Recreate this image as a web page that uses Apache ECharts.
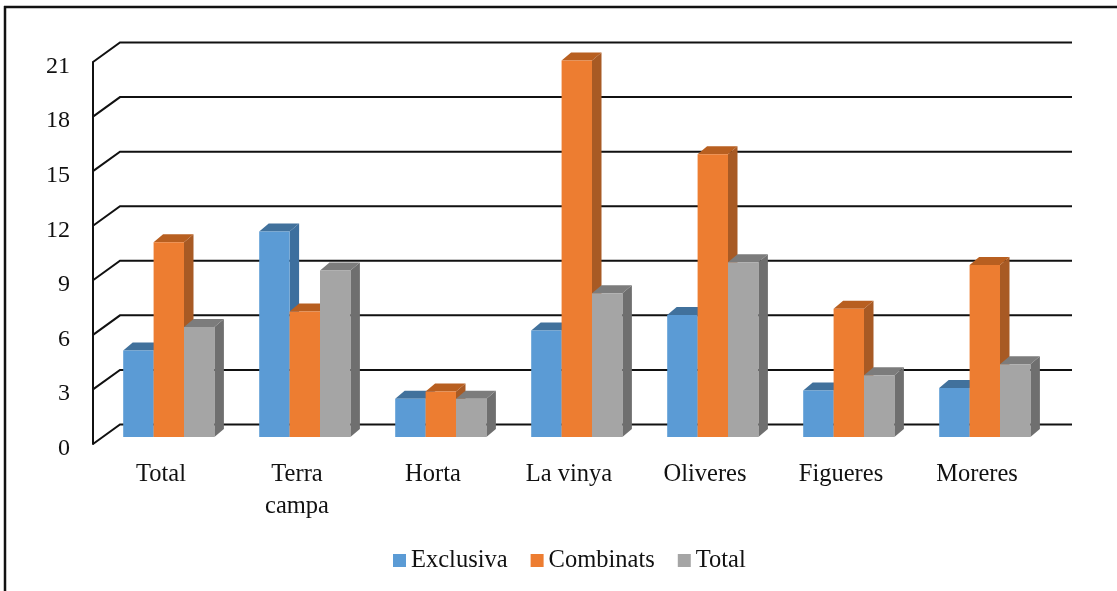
<!DOCTYPE html>
<html>
<head>
<meta charset="utf-8">
<style>html,body{margin:0;padding:0;background:#fff}#c{width:1117px;height:591px}</style>
<script src="https://cdn.jsdelivr.net/npm/echarts@6/dist/echarts.min.js"></script>
</head>
<body>
<div id="c"></div>
<script>
var categories = ['Total', 'Terra\ncampa', 'Horta', 'La vinya', 'Oliveres', 'Figueres', 'Moreres'];
var exclusiva = [4.75, 11.3, 2.1, 5.85, 6.7, 2.55, 2.7];
var combinats = [10.7, 6.9, 2.5, 20.7, 15.55, 7.05, 9.45];
var totalValues = [6.05, 9.15, 2.1, 7.9, 9.6, 3.4, 4.0];
var yTicks = [0, 3, 6, 9, 12, 15, 18, 21];

var FONT = '"Liberation Serif", serif';
var WALL_DX = 27, WALL_DY = -19.5;     // back wall offset
var BAR_DX = 7.8, BAR_DY = -7;         // bar front offset from the axis plane
var DEPTH_DX = 9.5, DEPTH_DY = -8;     // bar depth
var BAR_W = 30.4;

function gridItem(params, api) {
  var v = api.value(0);
  var cs = params.coordSys;
  var p = api.coord([0, v]);
  var x0 = cs.x, y = p[1];
  return {
    type: 'polyline',
    shape: { points: [[x0, y], [x0 + WALL_DX, y + WALL_DY], [x0 + cs.width + WALL_DX, y + WALL_DY]] },
    style: { stroke: '#111', lineWidth: 2, fill: null },
    silent: true
  };
}

function barRenderer(idx, front, top, side) {
  return function (params, api) {
    var c = api.value(0), v = api.value(1);
    var base = api.coord([c, 0]);
    var t = api.coord([c, v]);
    var x = base[0] + BAR_DX + (idx - 1.5) * BAR_W;
    var x2 = x + BAR_W;
    var yb = base[1] + BAR_DY, yt = t[1] + BAR_DY;
    return {
      type: 'group',
      children: [
        { type: 'polygon', shape: { points: [[x2, yt], [x2 + DEPTH_DX, yt + DEPTH_DY], [x2 + DEPTH_DX, yb + DEPTH_DY], [x2, yb]] }, style: { fill: side } },
        { type: 'polygon', shape: { points: [[x, yt], [x + DEPTH_DX, yt + DEPTH_DY], [x2 + DEPTH_DX, yt + DEPTH_DY], [x2, yt]] }, style: { fill: top } },
        { type: 'rect', shape: { x: x, y: yt, width: BAR_W, height: yb - yt }, style: { fill: front } }
      ]
    };
  };
}

function barData(values) {
  return values.map(function (v, i) { return [i, v]; });
}

function barSeries(name, values, idx, front, top, side) {
  return {
    name: name, type: 'custom', coordinateSystem: 'cartesian2d',
    data: barData(values), encode: { x: 0, y: 1 },
    itemStyle: { color: front },
    z: 3 + idx, clip: false,
    renderItem: barRenderer(idx, front, top, side)
  };
}

var chart = echarts.init(document.getElementById('c'), null, { renderer: 'canvas' });
chart.setOption({
  animation: false,
  backgroundColor: '#fff',
  grid: { left: 93, right: 72, top: 62, bottom: 147, containLabel: false },
  legend: {
    left: 393, top: 548, padding: 0,
    itemWidth: 13, itemHeight: 13, itemGap: 23,
    icon: 'rect',
    data: ['Exclusiva', 'Combinats', 'Total'],
    selectedMode: false,
    textStyle: { fontFamily: FONT, fontSize: 24.5, color: '#111' }
  },
  xAxis: {
    type: 'category', data: categories,
    axisLine: { show: false }, axisTick: { show: false }, splitLine: { show: false },
    axisLabel: { fontFamily: FONT, fontSize: 24.5, color: '#111', margin: 15, lineHeight: 32, interval: 0 }
  },
  yAxis: {
    type: 'value', min: 0, max: 21, interval: 3,
    axisLine: { show: true, lineStyle: { color: '#111', width: 2 } },
    axisTick: { show: false }, splitLine: { show: false },
    axisLabel: { fontFamily: FONT, fontSize: 24, color: '#111', margin: 23, verticalAlign: 'top', lineHeight: 9 }
  },
  series: [
    { name: 'gridlines', type: 'custom', coordinateSystem: 'cartesian2d', data: yTicks.map(function (v) { return [v]; }),
      encode: { y: 0 }, z: 1, clip: false, silent: true, renderItem: gridItem },
    barSeries('Exclusiva', exclusiva, 0, '#5B9BD5', '#41719C', '#3D6F9E'),
    barSeries('Combinats', combinats, 1, '#ED7D31', '#B85F20', '#A85A24'),
    barSeries('Total', totalValues, 2, '#A5A5A5', '#7C7C7C', '#6F6F6F')
  ],
  graphic: [
    { type: 'line', shape: { x1: 5, y1: 6, x2: 5, y2: 591 }, style: { stroke: '#111', lineWidth: 2.5 }, silent: true },
    { type: 'line', shape: { x1: 4, y1: 7, x2: 1117, y2: 7 }, style: { stroke: '#111', lineWidth: 2.5 }, silent: true }
  ]
});
</script>
</body>
</html>
